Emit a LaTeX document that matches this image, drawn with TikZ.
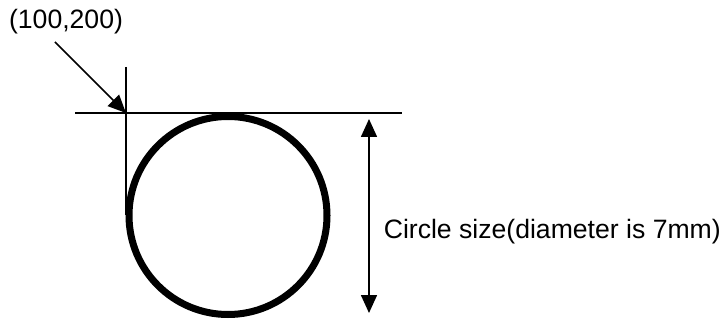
\documentclass[tikz,border=0pt]{standalone}
\usepackage{fontspec}
\setmainfont{Liberation Sans}
\usetikzlibrary{arrows.meta}
\begin{document}
\begin{tikzpicture}[x=1pt, y=-1pt, line width=1.6pt,
		tip/.style={-{Triangle[width=16pt,length=18pt]}},
		both/.style={{Triangle[width=16pt,length=18pt]}-{Triangle[width=16pt,length=18pt]}},
		lbl/.style={font=\fontsize{26.6}{30}\selectfont, inner sep=0}]
	\useasboundingbox (0,0) rectangle (722,320);
	% the circle and its reference lines
	\node[circle, draw, line width=7pt, minimum size=198pt, inner sep=0] (ring) at (228,215.5) {};
	\coordinate (corner) at (126,113);
	\coordinate (hleft) at (75,113);
	\coordinate (hright) at (402,113);
	\coordinate (vtop) at (126,67);
	\coordinate (vbot) at (126,215);
	\draw (hleft) -- (hright);
	\draw (vtop) -- (vbot);
	% position label
	\node[lbl] (pos) at (66,22) {(100,200)};
	\coordinate (start) at (55,42);
	\draw[tip] (start) -- (corner);
	% size label
	\coordinate (dtop) at (369,119);
	\coordinate (dbot) at (369,313);
	\draw[both] (dtop) -- (dbot);
	\node[lbl, anchor=west] (size) at (383,232) {Circle size(diameter is 7mm)};
\end{tikzpicture}
\end{document}
